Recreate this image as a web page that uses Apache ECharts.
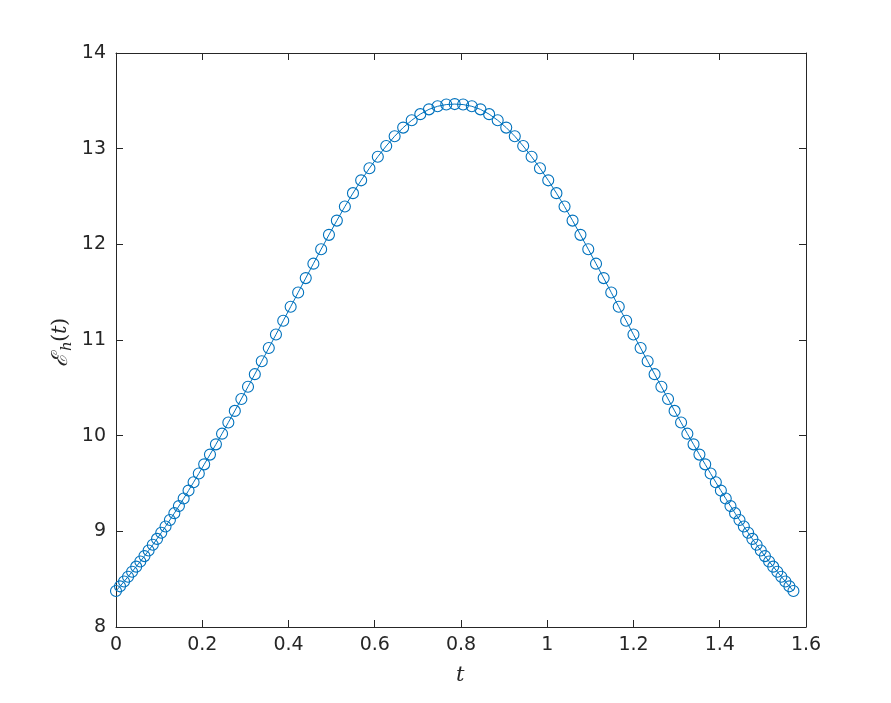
<!DOCTYPE html>
<html>
<head>
<meta charset="utf-8">
<script src="https://cdn.jsdelivr.net/npm/echarts@6/dist/echarts.min.js"></script>
<style>html,body{margin:0;padding:0;background:#fff}#c{width:891px;height:703px}</style>
</head>
<body>
<div id="c"></div>
<script>
var tValues = [
0, 0.0093, 0.0186, 0.0279, 0.0373, 0.0468, 0.0564, 0.0660, 0.0756, 0.0853,
0.0951, 0.1049, 0.1149, 0.1250, 0.1353, 0.1459, 0.1569, 0.1682, 0.1799, 0.1920,
0.2045, 0.2179, 0.2317, 0.2459, 0.2605, 0.2755, 0.2907, 0.3061, 0.3219, 0.3380,
0.3543, 0.3709, 0.3878, 0.4050, 0.4224, 0.4400, 0.4577, 0.4757, 0.4938, 0.5121,
0.5307, 0.5495, 0.5685, 0.5877, 0.6071, 0.6266, 0.6461, 0.6659, 0.6857, 0.7056,
0.7257, 0.7457, 0.7659, 0.7854,
0.8049, 0.8251, 0.8451, 0.8652, 0.8851, 0.9049, 0.9247, 0.9442, 0.9637, 0.9831,
1.0023, 1.0213, 1.0401, 1.0587, 1.0770, 1.0951, 1.1131, 1.1308, 1.1484, 1.1658,
1.1830, 1.1999, 1.2165, 1.2328, 1.2489, 1.2647, 1.2801, 1.2953, 1.3103, 1.3249,
1.3392, 1.3529, 1.3663, 1.3788, 1.3909, 1.4026, 1.4139, 1.4249, 1.4355, 1.4458,
1.4559, 1.4659, 1.4757, 1.4855, 1.4952, 1.5048, 1.5144, 1.5240, 1.5335, 1.5429,
1.5522, 1.5615, 1.5708
];
var eValues = [
8.376, 8.425, 8.475, 8.526, 8.578, 8.631, 8.685, 8.741, 8.799, 8.859,
8.921, 8.985, 9.051, 9.119, 9.190, 9.264, 9.343, 9.426, 9.513, 9.604,
9.700, 9.802, 9.909, 10.021, 10.138, 10.259, 10.384, 10.512, 10.643, 10.778,
10.916, 11.057, 11.201, 11.348, 11.497, 11.647, 11.798, 11.949, 12.099, 12.248,
12.395, 12.535, 12.669, 12.796, 12.916, 13.028, 13.130, 13.220, 13.297, 13.361,
13.411, 13.443, 13.461, 13.466,
13.461, 13.443, 13.411, 13.361, 13.297, 13.220, 13.130, 13.028, 12.916, 12.796,
12.669, 12.535, 12.395, 12.248, 12.099, 11.949, 11.798, 11.647, 11.497, 11.348,
11.201, 11.057, 10.916, 10.778, 10.643, 10.512, 10.384, 10.259, 10.138, 10.021,
9.909, 9.802, 9.700, 9.604, 9.513, 9.426, 9.343, 9.264, 9.190, 9.119,
9.051, 8.985, 8.921, 8.859, 8.799, 8.741, 8.685, 8.631, 8.578, 8.526,
8.475, 8.425, 8.376
];
var xTicks = [0, 0.2, 0.4, 0.6, 0.8, 1, 1.2, 1.4, 1.6];
var yTicks = [8, 9, 10, 11, 12, 13, 14];
var xTickLabels = ['0', '0.2', '0.4', '0.6', '0.8', '1', '1.2', '1.4', '1.6'];
var yTickLabels = ['8', '9', '10', '11', '12', '13', '14'];

var axisColor = '#262626';
var lineColor = '#0072BD';
var points = tValues.map(function (t, i) { return [t, eValues[i]]; });

function labelFor(ticks, labels) {
  return function (v) {
    for (var i = 0; i < ticks.length; i++) {
      if (Math.abs(ticks[i] - v) < 1e-9) return labels[i];
    }
    return '';
  };
}

function mkX(pos, show) {
  return {
    type: 'value', position: pos,
    min: xTicks[0], max: xTicks[xTicks.length - 1], interval: 0.2,
    axisLine: { show: true, onZero: false, lineStyle: { color: axisColor, width: 1 } },
    axisTick: { show: true, inside: true, length: 7, lineStyle: { color: axisColor, width: 1 } },
    axisLabel: { show: show, margin: 9, color: axisColor, fontSize: 19, fontFamily: 'DejaVu Sans',
      formatter: labelFor(xTicks, xTickLabels) },
    splitLine: { show: false }
  };
}
function mkY(pos, show) {
  return {
    type: 'value', position: pos,
    min: yTicks[0], max: yTicks[yTicks.length - 1], interval: 1,
    axisLine: { show: true, onZero: false, lineStyle: { color: axisColor, width: 1 } },
    axisTick: { show: true, inside: true, length: 7, lineStyle: { color: axisColor, width: 1 } },
    axisLabel: { show: show, margin: 10, color: axisColor, fontSize: 19, fontFamily: 'DejaVu Sans',
      formatter: labelFor(yTicks, yTickLabels) },
    splitLine: { show: false }
  };
}

var chart = echarts.init(document.getElementById('c'), null, { renderer: 'canvas' });
chart.setOption({
  animation: false,
  backgroundColor: '#ffffff',
  grid: { left: 116, right: 85, top: 53, bottom: 76, containLabel: false },
  xAxis: [mkX('bottom', true), mkX('top', false)],
  yAxis: [mkY('left', true), mkY('right', false)],
  series: [{
    type: 'line',
    xAxisIndex: 0, yAxisIndex: 0,
    data: points,
    showAllSymbol: true,
    symbol: 'circle',
    symbolSize: 11,
    lineStyle: { color: lineColor, width: 1 },
    itemStyle: { color: 'rgba(0,0,0,0)', borderColor: lineColor, borderWidth: 1.1 },
    emphasis: { disabled: true },
    z: 3
  }],
  graphic: [
    {
      type: 'text', left: 456, top: 665,
      style: { text: 't', font: 'italic 21px "DejaVu Serif"', fill: axisColor }
    },
    {
      type: 'group', x: 61, y: 342, rotation: Math.PI / 2,
      children: [
        { type: 'text', x: -25, y: 0, style: { text: '\u2130', font: 'italic 22px "DejaVu Serif"', fill: axisColor, textAlign: 'left', textVerticalAlign: 'middle' } },
        { type: 'text', x: -9, y: 6, style: { text: 'h', font: 'italic 15px "DejaVu Serif"', fill: axisColor, textAlign: 'left', textVerticalAlign: 'middle' } },
        { type: 'text', x: 0, y: 0, style: { text: '(', font: '21px "DejaVu Serif"', fill: axisColor, textAlign: 'left', textVerticalAlign: 'middle' } },
        { type: 'text', x: 8, y: 0, style: { text: 't', font: 'italic 21px "DejaVu Serif"', fill: axisColor, textAlign: 'left', textVerticalAlign: 'middle' } },
        { type: 'text', x: 16, y: 0, style: { text: ')', font: '21px "DejaVu Serif"', fill: axisColor, textAlign: 'left', textVerticalAlign: 'middle' } }
      ]
    }
  ]
});
</script>
</body>
</html>
